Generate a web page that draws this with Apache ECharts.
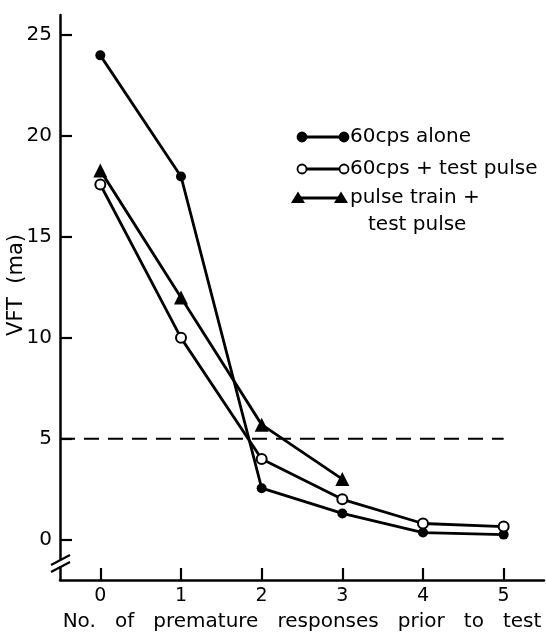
<!DOCTYPE html>
<html>
<head>
<meta charset="utf-8">
<script src="https://cdn.jsdelivr.net/npm/echarts@6/dist/echarts.min.js"></script>
<style>html,body{margin:0;padding:0;background:#fff}#c{width:546px;height:637px}</style>
</head>
<body>
<div id="c"></div>
<script>
const xCategories = [0, 1, 2, 3, 4, 5];
const xTickLabels = ['0', '1', '2', '3', '4', '5'];
const yTickValues = [0, 5, 10, 15, 20, 25];
const alone = [24, 18, 2.55, 1.3, 0.35, 0.25];
const plusPulse = [17.6, 10, 4.0, 2.0, 0.8, 0.65];
const pulseTrain = [18.3, 12, 5.7, 3.0];
const thresholdValue = 5;
const thresholdRange = [-0.5, 5];
const legendNames = ['60cps alone', '60cps + test pulse', 'pulse train +', 'test pulse'];
const xAxisTitle = 'No.   of   premature   responses   prior   to   test';
const yAxisTitle = 'VFT  (ma)';

const FONT = 'DejaVu Sans';
const pairs = (vals) => vals.map((v, i) => [xCategories[i], v]);

const chart = echarts.init(document.getElementById('c'));
const lineStyle = { color: '#000', width: 2.8 };

function legendRow(y, symbol, fill, text) {
  const x1 = symbol === 'circle' ? 302 : 298;
  const x2 = symbol === 'circle' ? 344 : 341;
  const els = [{ type: 'line', shape: { x1: x1, y1: y, x2: x2, y2: y }, style: { stroke: '#000', lineWidth: 2.8 } }];
  [x1, x2].forEach(x => {
    if (symbol === 'circle') {
      els.push({ type: 'circle', shape: { cx: x, cy: y, r: 4.5 }, style: { fill: fill, stroke: '#000', lineWidth: 1.8 } });
    } else {
      els.push({ type: 'polygon', shape: { points: [[x, y - 6.5], [x - 7, y + 5], [x + 7, y + 5]] }, style: { fill: '#000' } });
    }
  });
  els.push({ type: 'text', x: 350, y: y, style: { text: text, font: '20px ' + FONT, fill: '#000', verticalAlign: 'middle' } });
  return els;
}

chart.setOption({
  animation: false,
  grid: { left: 60, right: 2, top: 15, bottom: 51 },
  xAxis: {
    type: 'value', min: -0.5, max: 5.5,
    axisLine: { show: true, onZero: false, lineStyle: { color: '#000', width: 2.5 } },
    axisTick: { show: true, inside: true, length: 12, lineStyle: { color: '#000', width: 2.2 }, customValues: xCategories },
    axisLabel: { color: '#000', fontSize: 19, fontFamily: FONT, margin: 7, customValues: xCategories,
      formatter: v => xTickLabels[xCategories.indexOf(v)] },
    splitLine: { show: false },
    name: xAxisTitle,
    nameLocation: 'middle', nameGap: 32,
    nameTextStyle: { color: '#000', fontSize: 20, fontFamily: FONT }
  },
  yAxis: {
    type: 'value', min: -2, max: 26,
    axisLine: { show: true, onZero: false, lineStyle: { color: '#000', width: 2.5 } },
    axisTick: { show: true, inside: true, length: 12, lineStyle: { color: '#000', width: 2.2 }, customValues: yTickValues },
    axisLabel: { color: '#000', fontSize: 20, fontFamily: FONT, margin: 8, customValues: yTickValues },
    splitLine: { show: false }
  },
  series: [
    { type: 'line', data: [[thresholdRange[0], thresholdValue], [thresholdRange[1], thresholdValue]],
      symbol: 'none', lineStyle: { color: '#000', width: 2, type: [15, 9] }, z: 1 },
    { name: legendNames[0], type: 'line', data: pairs(alone), symbol: 'circle', symbolSize: 10,
      itemStyle: { color: '#000' }, lineStyle: lineStyle, z: 3 },
    { name: legendNames[1], type: 'line', data: pairs(plusPulse), symbol: 'circle', symbolSize: 10,
      itemStyle: { color: '#fff', borderColor: '#000', borderWidth: 2 }, lineStyle: lineStyle, z: 4 },
    { name: legendNames[2], type: 'line', data: pairs(pulseTrain), symbol: 'triangle', symbolSize: 14,
      itemStyle: { color: '#000' }, lineStyle: lineStyle, z: 3 }
  ],
  graphic: [
    ...legendRow(137, 'circle', '#000', legendNames[0]),
    ...legendRow(169, 'circle', '#fff', legendNames[1]),
    ...legendRow(198, 'triangle', '#000', legendNames[2]),
    { type: 'text', x: 368, y: 225, style: { text: legendNames[3], font: '20px ' + FONT, fill: '#000', verticalAlign: 'middle' } },
    { type: 'text', x: 17, y: 285, rotation: Math.PI / 2,
      style: { text: yAxisTitle, font: '21px ' + FONT, fill: '#000', align: 'center', verticalAlign: 'middle' } },
    { type: 'rect', shape: { x: 56, y: 560, width: 8, height: 6 }, style: { fill: '#fff' }, z: 100 },
    { type: 'line', shape: { x1: 51, y1: 565, x2: 70, y2: 555 }, style: { stroke: '#000', lineWidth: 2.2 }, z: 101 },
    { type: 'line', shape: { x1: 51, y1: 572, x2: 70, y2: 562 }, style: { stroke: '#000', lineWidth: 2.2 }, z: 101 }
  ]
});
</script>
</body>
</html>
